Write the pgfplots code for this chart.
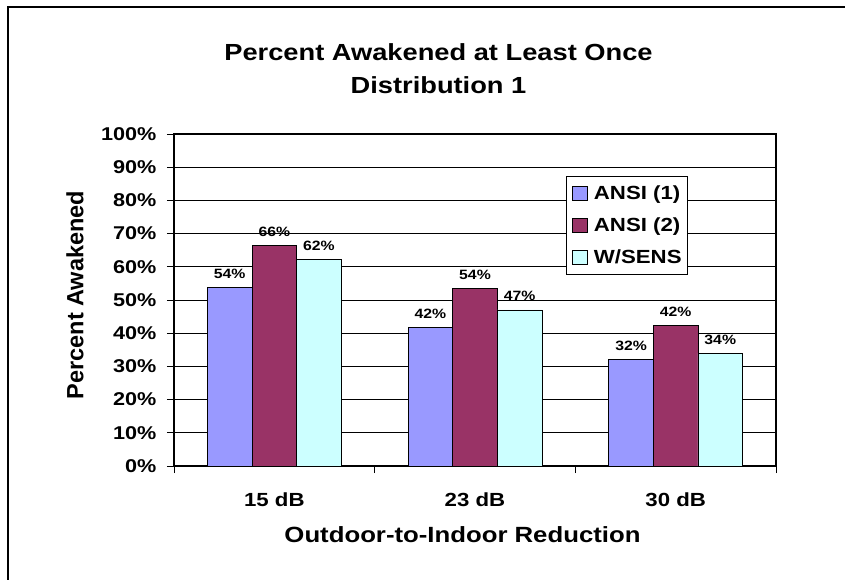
\documentclass[border=0pt]{standalone}
\usepackage{pgfplots}
\pgfplotsset{compat=1.18}
\usepackage{fontspec}
\setmainfont{Liberation Sans}[FakeStretch=1.17]
\newfontfamily\ylabfont{Liberation Sans}
\definecolor{cA}{HTML}{9999FF}
\definecolor{cB}{HTML}{993366}
\definecolor{cC}{HTML}{CCFFFF}
\newcommand{\fs}[1]{\fontsize{#1}{#1}\selectfont\bfseries}

\begin{document}
\begin{tikzpicture}[x=1pt,y=1pt]
\path[use as bounding box] (0,0) rectangle (845,-580);
\draw[line width=2pt] (7.5,-580) -- (7.5,-7) -- (845,-7);
\node[anchor=base, font=\fs{23.3}] at (438.5,-60.7) {Percent Awakened at Least Once};
\node[anchor=base, font=\fs{23.3}] at (438.5,-93.3) {Distribution 1};
\begin{axis}[
 at={(174pt,-466pt)}, anchor=south west,
 width=602pt, height=332pt, scale only axis,
 xmin=-0.5, xmax=2.5, ymin=0, ymax=100,
 ybar=0pt, bar width=44.6pt,
 axis line style={line width=2pt},
 tick align=outside, tick pos=left,
 major tick length=7pt,
 tick style={line width=0.8pt, black},
 ytick={0,10,...,100},
 yticklabels={0\%,10\%,20\%,30\%,40\%,50\%,60\%,70\%,80\%,90\%,100\%},
 yticklabel style={font=\fs{18.5}, anchor=east, inner sep=0pt, xshift=-10.3pt},
 ymajorgrids, major grid style={line width=0.8pt, black},
 xtick={-0.5,0.5,1.5,2.5}, xticklabels={},
 extra x ticks={0,1,2}, extra x tick labels={15 dB,23 dB,30 dB},
 extra x tick style={major tick length=0pt, grid=none},
 xticklabel style={font=\fs{19}, anchor=base, inner sep=0pt, yshift=-40pt},
 xlabel={Outdoor-to-Indoor Reduction},
 xlabel style={font=\fs{22}, at={(axis description cs:0.4792,0)}, anchor=base, yshift=-76.7pt},
 ylabel={Percent Awakened},
 ylabel style={font=\ylabfont\fontsize{23.5}{23.5}\selectfont\bfseries, at={(axis description cs:0,0.515)}, anchor=base, yshift=90.7pt},
 nodes near coords, point meta=explicit symbolic,
 nodes near coords style={font=\fs{13.5}, anchor=base, inner sep=0pt, yshift=9pt},
 legend style={at={(0.6507,0.8744)}, anchor=north west, draw=black, line width=0.8pt, fill=white, font=\fs{19}, inner xsep=6pt, inner ysep=9.6pt, row sep=17.1pt, column sep=6pt, nodes={inner sep=0pt, text height=13.4pt, text depth=0pt}},
 legend cell align=left,
 legend image code/.code={\draw[#1, line width=0.8pt] (0pt,-7pt) rectangle (15pt,7pt);},
]
\addplot[fill=cA, draw=black, line width=0.8pt] coordinates {(0,53.7) [54\%] (1,41.8) [42\%] (2,32.1) [32\%]};
\addplot[fill=cB, draw=black, line width=0.8pt] coordinates {(0,66.3) [66\%] (1,53.5) [54\%] (2,42.4) [42\%]};
\addplot[fill=cC, draw=black, line width=0.8pt] coordinates {(0,62.2) [62\%] (1,47.0) [47\%] (2,34.0) [34\%]};
\legend{ANSI (1),ANSI (2),W/SENS}
\end{axis}
\end{tikzpicture}
\end{document}
